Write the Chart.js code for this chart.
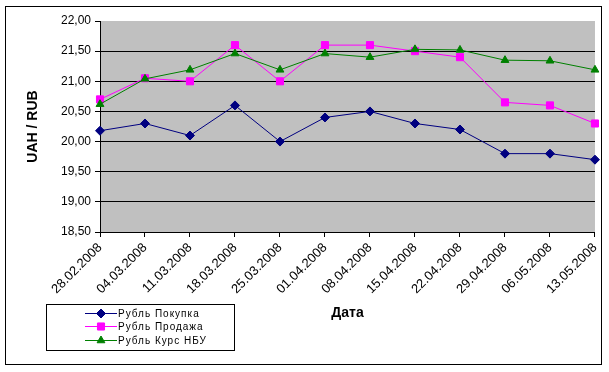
<!DOCTYPE html>
<html><head><meta charset="utf-8">
<script src="https://cdn.jsdelivr.net/npm/chart.js@4/dist/chart.umd.min.js"></script>
<style>html,body{margin:0;padding:0;background:#fff}canvas{display:block}</style>
</head><body>
<canvas id="c" width="609" height="372"></canvas>
<script>
const categories = ["28.02.2008","04.03.2008","11.03.2008","18.03.2008","25.03.2008","01.04.2008","08.04.2008","15.04.2008","22.04.2008","29.04.2008","06.05.2008","13.05.2008"];
const buyValues  = [20.18, 20.30, 20.10, 20.60, 20.00, 20.40, 20.50, 20.30, 20.20, 19.80, 19.80, 19.70];
const sellValues = [20.70, 21.05, 21.00, 21.60, 21.00, 21.60, 21.60, 21.50, 21.40, 20.65, 20.60, 20.30];
const nbuValues  = [20.62, 21.04, 21.19, 21.46, 21.19, 21.46, 21.40, 21.53, 21.52, 21.35, 21.34, 21.19];
const seriesNames = ["Рубль Покупка", "Рубль Продажа", "Рубль Курс НБУ"];
const yAxisTitle = "UAH / RUB";
const xAxisTitle = "Дата";

const FONT = "'Liberation Sans', Arial, sans-serif";

const decor = {
  id: 'decor',
  beforeDraw(chart) {
    const {ctx, chartArea: a} = chart;
    ctx.save();
    ctx.fillStyle = '#fff';
    ctx.fillRect(0, 0, chart.width, chart.height);
    ctx.fillStyle = '#C0C0C0';
    ctx.fillRect(a.left, a.top, a.right - a.left, a.bottom - a.top);
    ctx.strokeStyle = '#000';
    ctx.lineWidth = 1;
    ctx.strokeRect(5.5, 6.5, 596, 358);
    ctx.restore();
  },
  afterDraw(chart) {
    const {ctx} = chart;
    ctx.save();
    const bx = 46.5, by = 304.5, bw = 188, bh = 46;
    ctx.fillStyle = '#fff';
    ctx.fillRect(bx, by, bw, bh);
    ctx.strokeStyle = '#000';
    ctx.lineWidth = 1;
    ctx.strokeRect(bx, by, bw, bh);
    ctx.font = '10px ' + FONT;
    try { ctx.letterSpacing = '1px'; } catch (e) {}
    ctx.textBaseline = 'middle';
    ctx.textAlign = 'left';
    chart.data.datasets.forEach((ds, i) => {
      const y = Math.round(312.5 + i * 13.5);
      ctx.strokeStyle = ds.borderColor;
      ctx.lineWidth = 1;
      ctx.beginPath();
      ctx.moveTo(85, y + 0.5);
      ctx.lineTo(117, y + 0.5);
      ctx.stroke();
      ctx.fillStyle = ds.pointBackgroundColor;
      ctx.strokeStyle = ds.pointBorderColor;
      Chart.helpers.drawPoint(ctx, {pointStyle: ds.pointStyle, radius: ds.pointRadius, borderWidth: 1}, 101, y + 0.5);
      ctx.fillStyle = '#000';
      ctx.fillText(ds.label, 118, y + 1);
    });
    ctx.restore();
  }
};

const colors = ['#000080', '#FF00FF', '#008000'];
const styles = ['rectRot', 'rect', 'triangle'];
const radii = [4.5, 5, 4.5];
const values = [buyValues, sellValues, nbuValues];

new Chart(document.getElementById('c'), {
  type: 'line',
  data: {
    labels: categories,
    datasets: values.map((v, i) => ({
      label: seriesNames[i],
      data: v,
      borderColor: colors[i],
      backgroundColor: colors[i],
      pointBackgroundColor: colors[i],
      pointBorderColor: colors[i],
      pointStyle: styles[i],
      pointRadius: radii[i],
      pointBorderWidth: 1,
      borderWidth: 1,
      tension: 0,
      fill: false,
      order: 2 - i
    }))
  },
  options: {
    responsive: false,
    animation: false,
    devicePixelRatio: 1,
    layout: {padding: {left: 5, top: 21, right: 11, bottom: 0}},
    plugins: {legend: {display: false}, tooltip: {enabled: false}, title: {display: false}},
    scales: {
      x: {
        offset: false,
        grid: {drawOnChartArea: false, drawTicks: true, tickLength: 5, tickColor: '#000'},
        border: {color: '#000', width: 1},
        ticks: {color: '#000', font: {family: FONT, size: 13}, minRotation: 45, maxRotation: 45, padding: 3, autoSkip: false},
        title: {display: true, text: xAxisTitle, color: '#000', font: {family: FONT, size: 14, weight: 'bold'}, padding: {top: 0, bottom: 50}},
        afterFit(s) { s.height = 140; }
      },
      y: {
        min: 18.5, max: 22,
        grid: {
          color: c => (c.tick && c.tick.value >= 22) ? 'rgba(0,0,0,0)' : '#000',
          tickColor: '#000', tickLength: 5, lineWidth: 1
        },
        border: {color: '#000', width: 1},
        ticks: {stepSize: 0.5, color: '#000', font: {family: FONT, size: 12}, padding: 4,
          callback: v => Number(v).toFixed(2).replace('.', ',')},
        title: {display: true, text: yAxisTitle, color: '#000', font: {family: FONT, size: 14, weight: 'bold'}, padding: {top: 20, bottom: 0}},
        afterFit(s) { s.width = 95; }
      }
    }
  },
  plugins: [decor]
});
</script>
</body></html>
